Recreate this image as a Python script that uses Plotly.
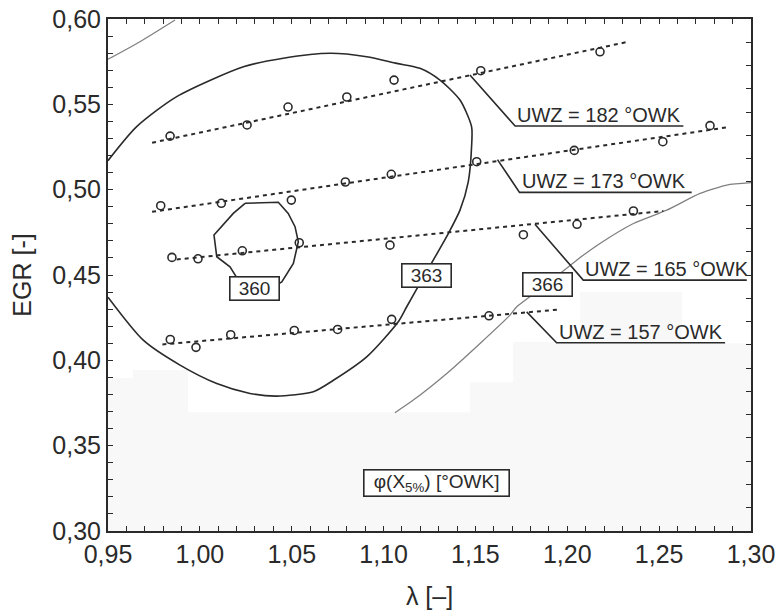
import plotly.graph_objects as go

# ---------------- data ----------------
# measured points (lambda, EGR) for each ignition timing UWZ
uwz_labels = ["UWZ = 182 °OWK", "UWZ = 173 °OWK", "UWZ = 165 °OWK", "UWZ = 157 °OWK"]

pts182_x = [0.9838, 1.0257, 1.0480, 1.0800, 1.1057, 1.1529, 1.2178]
pts182_y = [0.5314, 0.5379, 0.5484, 0.5543, 0.5642, 0.5697, 0.5808]
pts173_x = [0.9787, 1.0117, 1.0498, 1.0792, 1.1042, 1.1507, 1.2038, 1.2520, 1.2777]
pts173_y = [0.4906, 0.4920, 0.4939, 0.5045, 0.5090, 0.5164, 0.5230, 0.5281, 0.5375]
pts165_x = [0.9848, 0.9990, 1.0231, 1.0541, 1.1035, 1.1761, 1.2053, 1.2360]
pts165_y = [0.4603, 0.4595, 0.4642, 0.4689, 0.4675, 0.4736, 0.4797, 0.4875]
pts157_x = [0.9839, 0.9979, 1.0168, 1.0514, 1.0750, 1.1044, 1.1574]
pts157_y = [0.4122, 0.4076, 0.4150, 0.4175, 0.4181, 0.4240, 0.4261]

# fitted (dotted) lines: start / end
fit182_x = [0.974, 1.2325]
fit182_y = [0.5275, 0.5865]
fit173_x = [0.974, 1.2868]
fit173_y = [0.4870, 0.5365]
fit165_x = [0.9874, 1.2523]
fit165_y = [0.4591, 0.4875]
fit157_x = [0.9796, 1.1960]
fit157_y = [0.4093, 0.4298]

# iso-lines of phi(X5%) [°OWK]
c360_x = [1.0246, 1.0427, 1.0481, 1.0518, 1.0536, 1.0509, 1.0446, 1.0350, 1.0250, 1.0164, 1.0092, 1.0077, 1.0182, 1.0246]
c360_y = [0.4920, 0.4926, 0.4861, 0.4783, 0.4695, 0.4568, 0.4460, 0.4400, 0.4400, 0.4548, 0.4607, 0.4734, 0.4861, 0.4920]

c363_x = [0.9500, 0.9656, 0.9874, 1.0237, 1.0454, 1.0708, 1.0908, 1.1072, 1.1198, 1.1307, 1.1416,
          1.1479, 1.1479, 1.1461, 1.1416, 1.1353, 1.1224, 1.1126, 1.1080, 1.0908, 1.0727, 1.0618,
          1.0418, 1.0273, 1.0092, 0.9892, 0.9692, 0.9500]
c363_y = [0.5170, 0.5369, 0.5545, 0.5720, 0.5770, 0.5799, 0.5779, 0.5740, 0.5711, 0.5642, 0.5525,
          0.5369, 0.5252, 0.5046, 0.4880, 0.4744, 0.4500, 0.4314, 0.4226, 0.4020, 0.3883, 0.3816,
          0.3790, 0.3806, 0.3864, 0.3972, 0.4118, 0.4370]

c366a_x = [0.9500, 0.9674, 0.9865]
c366a_y = [0.5764, 0.5867, 0.5994]
c366b_x = [1.3000, 1.2868, 1.2723, 1.2541, 1.2360, 1.2178, 1.2051, 1.1890, 1.1725, 1.1688,
           1.1525, 1.1344, 1.1162, 1.1062]
c366b_y = [0.5041, 0.5027, 0.4978, 0.4880, 0.4802, 0.4685, 0.4587, 0.4447, 0.4314, 0.4265,
           0.4099, 0.3923, 0.3767, 0.3693]

iso_labels = ["360", "363", "366"]
iso_label_x = [1.0295, 1.1231, 1.1892]
iso_label_y = [0.4423, 0.4500, 0.4444]

# light grey background field (lowest contour band): column edges and top
shade_edges = [0.95, 0.9636, 0.9935, 1.147, 1.1705, 1.207, 1.2625, 1.30]
shade_tops = [0.3896, 0.3943, 0.3696, 0.3872, 0.4107, 0.4400, 0.4100]

x_ticks = [0.95, 1.00, 1.05, 1.10, 1.15, 1.20, 1.25, 1.30]
y_ticks = [0.30, 0.35, 0.40, 0.45, 0.50, 0.55, 0.60]

# ---------------- figure ----------------
FONT = "Liberation Sans, Arial, sans-serif"
DARK = "#2a2a2a"
fig = go.Figure()

shapes = []
for i, top in enumerate(shade_tops):
    shapes.append(dict(type="rect", xref="x", yref="y", layer="below",
                       x0=shade_edges[i], x1=shade_edges[i + 1], y0=0.30, y1=top,
                       fillcolor="#f8f8f8", line=dict(width=0)))

# iso lines
fig.add_trace(go.Scatter(x=c363_x, y=c363_y, mode="lines",
                         line=dict(color=DARK, width=1.6, shape="spline", smoothing=0.7),
                         hoverinfo="skip", showlegend=False))
fig.add_trace(go.Scatter(x=c360_x, y=c360_y, mode="lines", line=dict(color=DARK, width=1.6),
                         hoverinfo="skip", showlegend=False))
for cx, cy in [(c366a_x, c366a_y), (c366b_x, c366b_y)]:
    fig.add_trace(go.Scatter(x=cx, y=cy, mode="lines",
                             line=dict(color="#808080", width=1.3, shape="spline", smoothing=0.6),
                             hoverinfo="skip", showlegend=False))

series = [(pts182_x, pts182_y, fit182_x, fit182_y),
          (pts173_x, pts173_y, fit173_x, fit173_y),
          (pts165_x, pts165_y, fit165_x, fit165_y),
          (pts157_x, pts157_y, fit157_x, fit157_y)]
for (px, py, fx, fy), name in zip(series, uwz_labels):
    fig.add_trace(go.Scatter(x=fx, y=fy, mode="lines",
                             line=dict(color=DARK, width=2, dash="4px,4px"),
                             hoverinfo="skip", showlegend=False))
    fig.add_trace(go.Scatter(x=px, y=py, mode="markers", name=name,
                             marker=dict(symbol="circle-open", size=8, color=DARK,
                                         line=dict(color=DARK, width=1.6)),
                             showlegend=False))

# leader lines for UWZ labels (start on fit line, elbow, end of underline)
leaders = [
    ([1.1470, 1.1716, 1.2632], [0.5672, 0.5373, 0.5373]),
    ([1.1620, 1.1740, 1.2677], [0.5176, 0.4984, 0.4984]),
    ([1.1824, 1.2087, 1.2977], [0.4797, 0.4470, 0.4470]),
    ([1.1779, 1.1942, 1.2859], [0.4284, 0.4103, 0.4103]),
]
annotations = []
for (lx, ly), label in zip(leaders, uwz_labels):
    fig.add_trace(go.Scatter(x=lx, y=ly, mode="lines", line=dict(color=DARK, width=1.6),
                             hoverinfo="skip", showlegend=False))
    annotations.append(dict(x=lx[1], y=ly[1], xref="x", yref="y", text=label,
                            showarrow=False, xanchor="left", yanchor="bottom", xshift=0, yshift=-2,
                            font=dict(family=FONT, size=20, color=DARK)))

for t, ax_, ay_ in zip(iso_labels, iso_label_x, iso_label_y):
    annotations.append(dict(x=ax_, y=ay_, xref="x", yref="y", text=t, showarrow=False,
                            font=dict(family=FONT, size=19, color=DARK),
                            bgcolor="white", bordercolor=DARK, borderwidth=1.6, borderpad=1,
                            width=46, height=20))

annotations.append(dict(x=1.1286, y=0.3283, xref="x", yref="y",
                        text="φ(X<sub>5%</sub>) [°OWK]", showarrow=False,
                        font=dict(family=FONT, size=19, color=DARK),
                        bgcolor="white", bordercolor=DARK, borderwidth=1.6, borderpad=1,
                        width=142, height=23))

# dummy trace for right-hand tick axis
fig.add_trace(go.Scatter(x=[0.95], y=[0], yaxis="y2", mode="markers",
                         marker=dict(opacity=0), hoverinfo="skip", showlegend=False))

fig.update_layout(
    width=780, height=614,
    margin=dict(l=108, r=29, t=19, b=83),
    paper_bgcolor="white", plot_bgcolor="white",
    separators=",.",
    font=dict(family=FONT, color=DARK),
    shapes=shapes, annotations=annotations,
    xaxis=dict(range=[0.95, 1.30], tickvals=x_ticks, tickformat=".2f",
               ticks="inside", ticklen=5, tickwidth=1.3, tickcolor=DARK,
               minor=dict(dtick=0.01, ticks="inside", ticklen=5, tickwidth=1.3, tickcolor=DARK),
               showline=True, linecolor=DARK, linewidth=2, mirror="allticks",
               showgrid=False, zeroline=False,
               tickfont=dict(family=FONT, size=25, color=DARK),
               title=dict(text="λ [–]", font=dict(family=FONT, size=25, color=DARK), standoff=20),
               automargin=False),
    yaxis=dict(range=[0.30, 0.60], tickvals=y_ticks, tickformat=".2f",
               ticks="inside", ticklen=5, tickwidth=1.3, tickcolor=DARK,
               minor=dict(dtick=0.01, ticks="inside", ticklen=5, tickwidth=1.3, tickcolor=DARK),
               showline=True, linecolor=DARK, linewidth=2, mirror=True,
               showgrid=False, zeroline=False,
               tickfont=dict(family=FONT, size=25, color=DARK),
               title=dict(text="EGR [-]", font=dict(family=FONT, size=25, color=DARK), standoff=14),
               automargin=False),
    yaxis2=dict(overlaying="y", side="right", range=[0, 22], dtick=1,
                ticks="inside", ticklen=5, tickwidth=1.3, tickcolor=DARK,
                showticklabels=False, showgrid=False, zeroline=False, showline=False),
)

fig.write_html("out.html")
